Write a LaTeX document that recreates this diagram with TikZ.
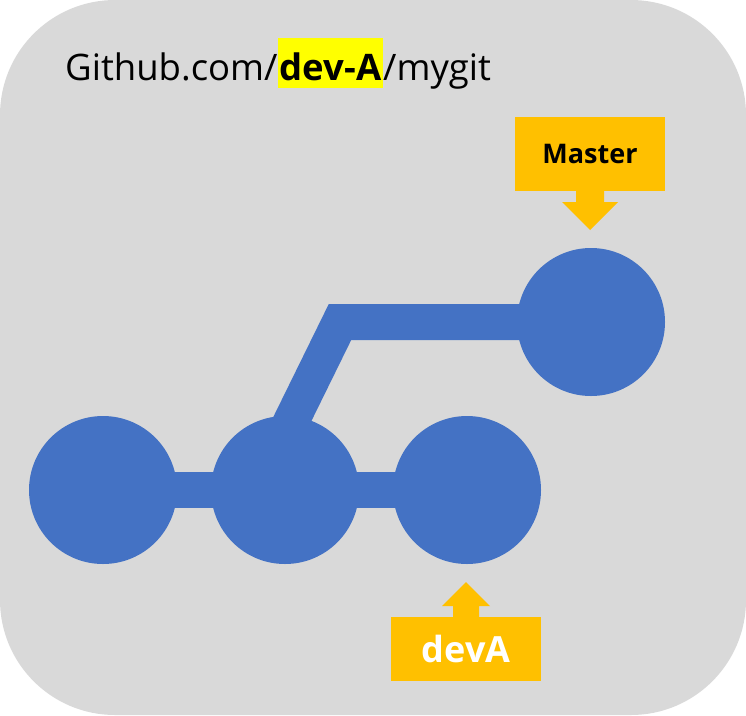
\documentclass[tikz,border=0pt]{standalone}
\usepackage{fontspec}
\setmainfont{Open Sans}
\usetikzlibrary{backgrounds}
\definecolor{bgGray}{HTML}{D9D9D9}
\definecolor{commitBlue}{HTML}{4472C4}
\definecolor{tagOrange}{HTML}{FFC000}
\definecolor{hiYellow}{HTML}{FFFF00}
\tikzset{
  commit/.style={circle, fill=commitBlue, minimum size=148pt, inner sep=0pt},
  link/.style={draw=commitBlue, line width=36pt, miter limit=10},
  tagbox/.style={fill=tagOrange, minimum width=150pt, inner sep=0pt, font=\bfseries},
  tagarrow/.style={fill=tagOrange},
}
\begin{document}
\begin{tikzpicture}[x=1pt,y=-1pt]
\useasboundingbox (0,0) rectangle (746,715);

\node[anchor=base west, inner sep=0pt, font=\fontsize{36.5}{44}\selectfont] (title) at (65,80)
  {Github.com/{\setlength\fboxsep{0pt}\colorbox{hiYellow}{\rule[-8pt]{0pt}{50pt}\hspace{2pt}\bfseries dev-A\hspace{2pt}}}/mygit};

\node[commit] (c1) at (103,490) {};
\node[commit] (c2) at (285,490) {};
\node[commit] (c3) at (467,490) {};
\node[commit] (c4) at (591,322) {};

\coordinate (bend) at (340,322);
\coordinate (branchend) at (283,438);

\begin{scope}[on background layer]
  \fill[bgGray, rounded corners=115pt] (0,0) rectangle (746,715);
  \draw[link] (c1.center) -- (c2.center);
  \draw[link] (c2.center) -- (c3.center);
  \draw[link] (c4.center) -- (bend) -- (branchend);
\end{scope}

\node[tagbox, minimum height=74pt, font=\bfseries\fontsize{27}{32}\selectfont] (master) at (590,154) {Master};
\fill[tagarrow] (576,190.5) -- (604,190.5) -- (604,202) -- (618,202) -- (590,230) -- (562,202) -- (576,202) -- cycle;

\node[tagbox, minimum height=64pt, text=white, font=\bfseries\fontsize{36}{42}\selectfont] (deva) at (466,649) {devA};
\fill[tagarrow] (453,617.5) -- (479,617.5) -- (479,606) -- (490,606) -- (466,582) -- (442,606) -- (453,606) -- cycle;
\end{tikzpicture}
\end{document}
